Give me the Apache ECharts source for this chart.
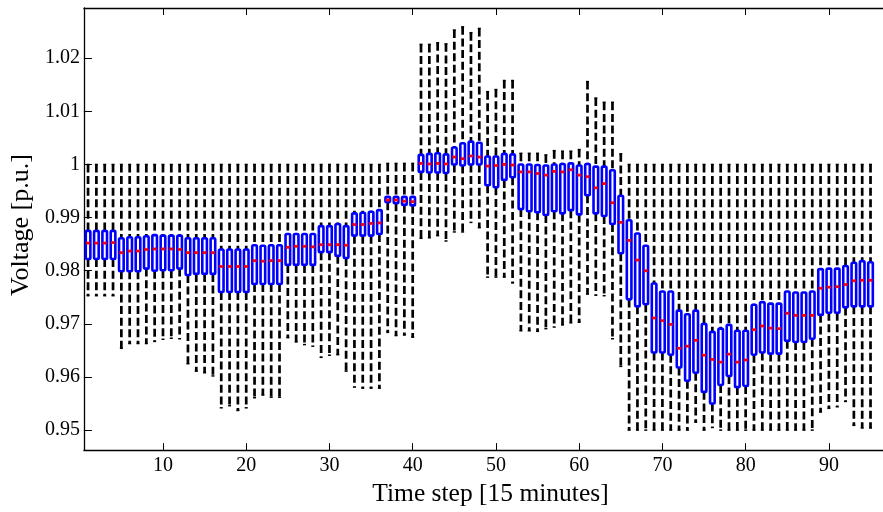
<!DOCTYPE html>
<html>
<head>
<meta charset="utf-8">
<script src="https://cdn.jsdelivr.net/npm/echarts@6/dist/echarts.min.js"></script>
<style>
html,body{margin:0;padding:0;background:#fff;}
#chart{width:883px;height:512px;}
</style>
</head>
<body>
<div id="chart"></div>
<script>
// Time steps (15-minute intervals)
var steps = [];
for (var s = 1; s <= 95; s++) steps.push(s);

var lowWhisker = [
0.9753,0.9753,0.9753,0.9753,0.9654,0.9663,0.9663,0.9663,0.9667,0.9671,
0.9673,0.9672,0.9625,0.9611,0.9608,0.9602,0.9542,0.9546,0.9537,0.9542,
0.9561,0.9566,0.9562,0.9562,0.9674,0.9666,0.9661,0.9658,0.9637,0.9641,
0.9642,0.9611,0.9581,0.9579,0.9579,0.9579,0.9684,0.9678,0.9679,0.9675,
0.9861,0.9862,0.9866,0.9856,0.9873,0.9873,0.9891,0.9881,0.9788,0.9788,
0.9788,0.9777,0.9687,0.9687,0.9686,0.9691,0.9694,0.9698,0.9702,0.9703,
0.9756,0.9754,0.9753,0.9672,0.9620,0.9500,0.9500,0.9500,0.9500,0.9500,
0.9500,0.9500,0.9500,0.9515,0.9500,0.9505,0.9500,0.9500,0.9500,0.9500,
0.9500,0.9500,0.9500,0.9500,0.9500,0.9500,0.9500,0.9500,0.9534,0.9541,
0.9544,0.9554,0.9509,0.9504,0.9504];

var q1 = [
0.9822,0.9822,0.9822,0.9822,0.9799,0.9799,0.9799,0.9804,0.9800,0.9801,
0.9801,0.9804,0.9792,0.9794,0.9794,0.9794,0.9760,0.9760,0.9760,0.9760,
0.9775,0.9775,0.9775,0.9775,0.9811,0.9811,0.9811,0.9811,0.9835,0.9835,
0.9828,0.9824,0.9866,0.9866,0.9866,0.9869,0.9929,0.9927,0.9924,0.9923,
0.9986,0.9985,0.9985,0.9984,1.0000,0.9998,1.0000,1.0000,0.9961,0.9957,
0.9971,0.9976,0.9916,0.9912,0.9910,0.9905,0.9912,0.9908,0.9914,0.9906,
0.9942,0.9908,0.9903,0.9888,0.9833,0.9746,0.9733,0.9737,0.9646,0.9646,
0.9642,0.9618,0.9593,0.9608,0.9572,0.9550,0.9585,0.9602,0.9581,0.9583,
0.9642,0.9646,0.9644,0.9644,0.9668,0.9666,0.9666,0.9672,0.9717,0.9721,
0.9721,0.9731,0.9733,0.9733,0.9733];

var median = [
0.9852,0.9852,0.9852,0.9853,0.9834,0.9837,0.9837,0.9840,0.9841,0.9841,
0.9841,0.9840,0.9834,0.9834,0.9834,0.9834,0.9808,0.9808,0.9808,0.9808,
0.9819,0.9818,0.9819,0.9819,0.9844,0.9846,0.9846,0.9845,0.9849,0.9849,
0.9849,0.9848,0.9887,0.9887,0.9889,0.9890,0.9933,0.9933,0.9931,0.9930,
1.0002,1.0001,1.0002,1.0001,1.0014,1.0011,1.0016,1.0014,0.9997,0.9998,
1.0000,0.9999,0.9986,0.9986,0.9983,0.9980,0.9987,0.9986,0.9990,0.9980,
0.9977,0.9956,0.9964,0.9928,0.9891,0.9857,0.9820,0.9800,0.9711,0.9706,
0.9699,0.9654,0.9658,0.9669,0.9641,0.9633,0.9628,0.9643,0.9628,0.9632,
0.9689,0.9696,0.9692,0.9691,0.9720,0.9716,0.9716,0.9716,0.9767,0.9769,
0.9770,0.9774,0.9781,0.9782,0.9782];

var q3 = [
0.9875,0.9875,0.9875,0.9875,0.9861,0.9863,0.9863,0.9865,0.9867,0.9866,
0.9866,0.9866,0.9861,0.9861,0.9861,0.9861,0.9840,0.9840,0.9840,0.9840,
0.9848,0.9847,0.9848,0.9848,0.9869,0.9869,0.9869,0.9869,0.9884,0.9884,
0.9888,0.9884,0.9908,0.9909,0.9911,0.9914,0.9939,0.9939,0.9939,0.9939,
1.0018,1.0020,1.0021,1.0019,1.0032,1.0040,1.0043,1.0041,1.0015,1.0015,
1.0020,1.0019,1.0000,1.0000,0.9999,0.9998,1.0000,1.0001,1.0002,0.9998,
1.0001,0.9996,0.9996,0.9989,0.9941,0.9895,0.9870,0.9847,0.9776,0.9761,
0.9761,0.9725,0.9718,0.9725,0.9700,0.9685,0.9691,0.9698,0.9687,0.9687,
0.9736,0.9741,0.9738,0.9738,0.9761,0.9759,0.9759,0.9761,0.9803,0.9804,
0.9804,0.9809,0.9815,0.9818,0.9816];

var highWhisker = [
1.0000,1.0000,1.0000,1.0000,1.0000,1.0000,1.0000,1.0000,1.0000,1.0000,
1.0000,1.0000,1.0000,1.0000,1.0000,1.0000,1.0000,1.0000,1.0000,1.0000,
1.0000,1.0000,1.0000,1.0000,1.0000,1.0000,1.0000,1.0000,1.0000,1.0000,
1.0000,1.0000,1.0000,1.0000,1.0000,1.0000,1.0002,1.0002,1.0002,1.0002,
1.0226,1.0226,1.0229,1.0227,1.0253,1.0259,1.0248,1.0256,1.0137,1.0141,
1.0158,1.0158,1.0021,1.0021,1.0021,1.0018,1.0026,1.0025,1.0025,1.0028,
1.0156,1.0125,1.0117,1.0117,1.0020,1.0000,1.0000,1.0000,1.0000,1.0000,
1.0000,1.0000,1.0000,1.0000,1.0000,1.0000,1.0000,1.0000,1.0000,1.0000,
1.0000,1.0000,1.0000,1.0000,1.0000,1.0000,1.0000,1.0000,1.0000,1.0000,
1.0000,1.0000,1.0000,1.0000,1.0000];

var xTicks = [10, 20, 30, 40, 50, 60, 70, 80, 90];
var yTicks = [0.95, 0.96, 0.97, 0.98, 0.99, 1.00, 1.01, 1.02];

var data = steps.map(function (t, i) {
  return [t, lowWhisker[i], q1[i], median[i], q3[i], highWhisker[i]];
});

var FONT = '"Liberation Serif", "Times New Roman", serif';

function renderBox(params, api) {
  var x = api.value(0);
  var pLo = api.coord([x, api.value(1)]);
  var pQ1 = api.coord([x, api.value(2)]);
  var pMed = api.coord([x, api.value(3)]);
  var pQ3 = api.coord([x, api.value(4)]);
  var pHi = api.coord([x, api.value(5)]);
  var cx = pMed[0];
  var halfBox = 2.3;
  var whiskerStyle = { stroke: '#000', lineWidth: 2.7, lineDash: [8, 3.6], lineCap: 'butt' };
  return {
    type: 'group',
    children: [
      { type: 'line', shape: { x1: cx, y1: pHi[1], x2: cx, y2: pQ3[1] }, style: whiskerStyle },
      { type: 'line', shape: { x1: cx, y1: pQ1[1], x2: cx, y2: pLo[1] }, style: whiskerStyle },
      { type: 'line', shape: { x1: cx - 1.5, y1: pHi[1], x2: cx + 1.5, y2: pHi[1] }, style: { stroke: '#000', lineWidth: 1.5 } },
      { type: 'line', shape: { x1: cx - 1.5, y1: pLo[1], x2: cx + 1.5, y2: pLo[1] }, style: { stroke: '#000', lineWidth: 1.5 } },
      { type: 'rect', shape: { x: cx - halfBox, y: pQ3[1], width: halfBox * 2, height: pQ1[1] - pQ3[1], r: 1.2 },
        style: { fill: '#ffffff', stroke: '#0000ff', lineWidth: 2.6, lineJoin: 'round' } },
      { type: 'line', shape: { x1: cx - 2, y1: pMed[1], x2: cx + 2, y2: pMed[1] }, style: { stroke: '#ff0000', lineWidth: 2.8 } }
    ]
  };
}

var chart = echarts.init(document.getElementById('chart'), null, { renderer: 'canvas' });
chart.setOption({
  backgroundColor: '#ffffff',
  animation: false,
  grid: { left: 80.5, top: 8, right: -9.7, bottom: 61, containLabel: false },
  xAxis: [{
    type: 'value', min: 0.5, max: 96.5, position: 'bottom',
    name: 'Time step [15 minutes]', nameLocation: 'middle', nameGap: 24,
    nameTextStyle: { fontFamily: FONT, fontSize: 25.5, color: '#000', padding: [0, 0, 0, 14] },
    axisLine: { show: true, onZero: false, lineStyle: { color: '#000', width: 1.3 } },
    axisTick: { show: true, inside: true, length: 7, customValues: xTicks, lineStyle: { color: '#000', width: 1 } },
    axisLabel: { show: true, customValues: xTicks, margin: 6, fontFamily: FONT, fontSize: 20, color: '#000' },
    splitLine: { show: false }
  }, {
    type: 'value', min: 0.5, max: 96.5, position: 'top',
    axisLine: { show: true, onZero: false, lineStyle: { color: '#000', width: 1.3 } },
    axisTick: { show: true, inside: true, length: 7, customValues: xTicks, lineStyle: { color: '#000', width: 1 } },
    axisLabel: { show: false },
    splitLine: { show: false }
  }],
  yAxis: [{
    type: 'value', min: 0.94624, max: 1.02945, position: 'left',
    name: 'Voltage [p.u.]', nameLocation: 'middle', nameGap: 46, nameRotate: 90,
    nameTextStyle: { fontFamily: FONT, fontSize: 26, color: '#000', padding: [0, 0, 0, 8] },
    axisLine: { show: true, onZero: false, lineStyle: { color: '#000', width: 1.3 } },
    axisTick: { show: true, inside: true, length: 8, customValues: yTicks, lineStyle: { color: '#000', width: 1 } },
    axisLabel: { show: true, customValues: yTicks, margin: 4, fontFamily: FONT, fontSize: 20, color: '#000',
      formatter: function (v) { return String(parseFloat(Number(v).toFixed(2))); } },
    splitLine: { show: false }
  }],
  series: [{
    type: 'custom',
    xAxisIndex: 0, yAxisIndex: 0,
    clip: true,
    renderItem: renderBox,
    encode: { x: 0, y: [1, 2, 3, 4, 5] },
    data: data
  }]
});
</script>
</body>
</html>
